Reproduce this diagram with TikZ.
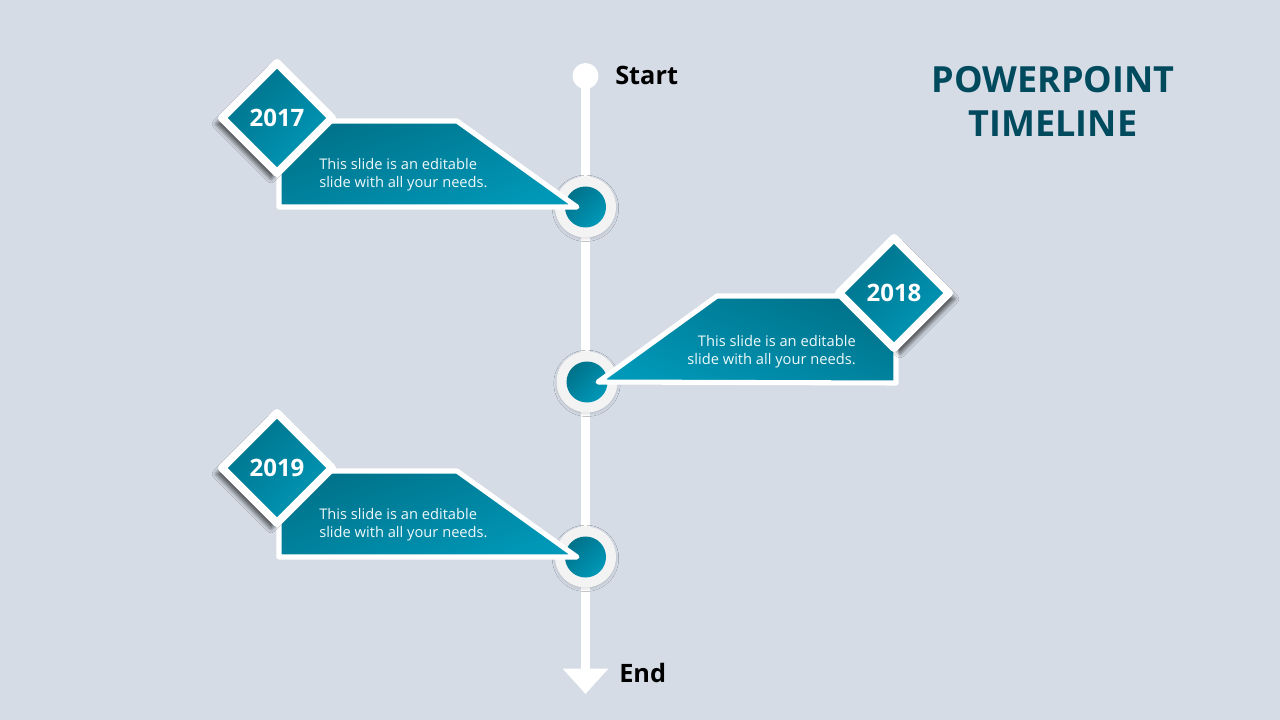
\documentclass[tikz,border=0pt]{standalone}
\usepackage{fontspec}
\setmainfont{Open Sans}
\usetikzlibrary{shapes.geometric,shadows.blur,arrows.meta}
\definecolor{bg}{RGB}{213,220,230}
\definecolor{tealD}{RGB}{0,114,138}
\definecolor{tealL}{RGB}{0,152,184}
\definecolor{titlec}{RGB}{0,74,94}
\definecolor{ringc}{RGB}{243,243,243}
\begin{document}
\begin{tikzpicture}[x=0.75pt,y=-0.75pt,
  tealfill/.style={top color=tealD,bottom color=tealL,shading angle=45},
  banner/.style={draw=white,line width=3.8pt,line join=round,top color=tealD,bottom color=tealL,shading angle=#1},
  yeardia/.style={shape=diamond,aspect=1,minimum size=85pt,inner sep=0pt,
    draw=white,line width=6pt,line join=round,tealfill,text=white,
    font=\bfseries\fontsize{18}{22}\selectfont},
  shadowL/.style={blur shadow={shadow xshift=-4.5pt,shadow yshift=-4.5pt,shadow opacity=60,shadow blur radius=3pt}},
  shadowR/.style={blur shadow={shadow xshift=4.5pt,shadow yshift=-4.5pt,shadow opacity=60,shadow blur radius=3pt}},
  ring/.style={circle,fill=ringc,minimum size=45.75pt,inner sep=0pt,
    blur shadow={shadow xshift=0pt,shadow yshift=-1pt,shadow opacity=15,shadow blur radius=2pt}},
  dot/.style={circle,tealfill,minimum size=30.75pt,inner sep=0pt},
  body/.style={text=white!94!tealL,font=\fontsize{11}{13.5}\selectfont,inner sep=0pt},
  label/.style={font=\bfseries\fontsize{19}{23}\selectfont,anchor=west,inner sep=0pt,text=black}]
\useasboundingbox (0,0) rectangle (1280,720);
\fill[bg] (0,0) rectangle (1280,720);
% timeline axis
\node[circle,fill=white,minimum size=19.5pt,inner sep=0pt] (s) at (585.5,76) {};
\coordinate (endtip) at (585.5,694);
\draw[white,line width=6.75pt,-{Triangle[width=33pt,length=19pt]}] (s.center) -- (endtip);
% milestone circles
\node[ring] (c1) at (585.5,207) {};
\node[dot] (k1) at (c1.center) {};
\node[ring] (c2) at (587,382) {};
\node[dot] (k2) at (c2.center) {};
\node[ring] (c3) at (585.5,557) {};
\node[dot] (k3) at (c3.center) {};
% banners
\path[banner=20] (279,121) -- (457,121) -- (577,207) -- (279,207) -- cycle;
\path[banner=-20] (598,382) -- (717,296) -- (896,296) -- (896,383) -- cycle;
\path[banner=20] (279,471) -- (457,471) -- (577,557) -- (279,557) -- cycle;
% year diamonds
\node[yeardia,shadowL] (d1) at (277,118) {2017};
\node[yeardia,shadowR] (d2) at (894,293) {2018};
\node[yeardia,shadowL] (d3) at (277,468) {2019};
% texts
\node[body,align=left,anchor=west] (t1) at (319,174.5) {This slide is an editable\\slide with all your needs.};
\node[body,align=right,anchor=east] (t2) at (856,351.5) {This slide is an editable\\slide with all your needs.};
\node[body,align=left,anchor=west] (t3) at (319,524.5) {This slide is an editable\\slide with all your needs.};
\node[label] (lstart) at (615,75) {Start};
\node[label] (lend) at (619,673) {End};
\node[font=\bfseries\fontsize{27}{33}\selectfont,text=titlec,align=center] (title) at (1053,101) {POWERPOINT\\TIMELINE};
\end{tikzpicture}
\end{document}
